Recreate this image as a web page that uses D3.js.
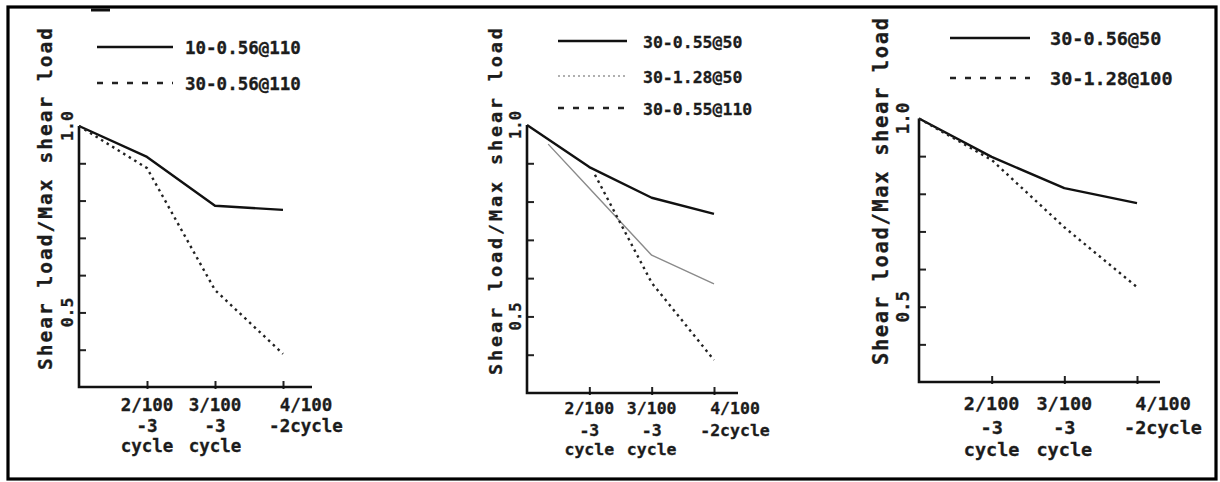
<!DOCTYPE html>
<html>
<head>
<meta charset="utf-8">
<script src="https://cdn.jsdelivr.net/npm/d3@7"></script>
<style>
  body { margin: 0; background: #fff; }
  svg text { font-family: "DejaVu Sans Mono", "Liberation Mono", monospace; font-weight: bold; fill: #1c1c1c; stroke: #1c1c1c; stroke-width: 0.3; }
</style>
</head>
<body>
<svg width="1220" height="482"></svg>
<script>
const svg = d3.select("svg")

// x categories (0 = origin, unlabeled)
const tickLabels = [
    ["2/100", "-3", "cycle"],
    ["3/100", "-3", "cycle"],
    ["4/100", "-2cycle"]
]
const yTickValues = [0.4, 0.5, 0.6, 0.7, 0.8, 0.9]
const yLabel = "Shear load/Max shear load"

// panel 1
const p1Names = ["10-0.56@110", "30-0.56@110"]
const p1X = [0, 1, 2, 3]
const p1A = [1.0, 0.917, 0.786, 0.775]
const p1B = [1.0, 0.887, 0.56, 0.389]

// panel 2
const p2Names = ["30-0.55@50", "30-1.28@50", "30-0.55@110"]
const p2AX = [0, 1, 2, 3]
const p2A = [1.0, 0.89, 0.81, 0.768]
const p2BX = [0.34, 1, 2, 3]
const p2B = [0.95, 0.835, 0.66, 0.585]
const p2CX = [1.09, 2, 3]
const p2C = [0.87, 0.588, 0.386]

// panel 3
const p3Names = ["30-0.56@50", "30-1.28@100"]
const p3X = [0, 1, 2, 3]
const p3A = [1.0, 0.898, 0.815, 0.775]
const p3B = [1.0, 0.89, 0.711, 0.552]

const styles = {
    solid: { stroke: "#111", width: 2.4, dash: null, legendDash: null },
    dash: { stroke: "#222", width: 2.4, dash: "2.5,4", legendDash: "6,9" },
    gray: { stroke: "#8a8a8a", width: 1.4, dash: null, legendDash: "2,3", legendStroke: "#b0b0b0" }
}

const zip = (xs, vs) => xs.map((x, i) => ({ x: x, v: vs[i] }))

const panels = [
    {
        xr: [79, 283], yr: [387, 126], axisEnd: 312, fs: 17.5,
        yLab: { x: 52, y0: 28, y1: 370 }, tickLabX: 73,
        rows: [411, 432, 452], lastDx: 23,
        legend: { x1: 97, x2: 173, tx: 185, ys: [47, 83] },
        series: [
            { name: p1Names[0], data: zip(p1X, p1A), style: "solid" },
            { name: p1Names[1], data: zip(p1X, p1B), style: "dash" }
        ]
    },
    {
        xr: [527, 714], yr: [393, 125], axisEnd: 738, fs: 16.5,
        yLab: { x: 502, y0: 28, y1: 375 }, tickLabX: 521,
        rows: [414, 436, 455], lastDx: 21,
        legend: { x1: 558, x2: 627, tx: 643, ys: [41, 76, 108] },
        series: [
            { name: p2Names[0], data: zip(p2AX, p2A), style: "solid" },
            { name: p2Names[1], data: zip(p2BX, p2B), style: "gray" },
            { name: p2Names[2], data: zip(p2CX, p2C), style: "dash" }
        ]
    },
    {
        xr: [919, 1137], yr: [382, 118.5], axisEnd: 1160, fs: 18.5,
        yLab: { x: 888, y0: 18, y1: 365 }, tickLabX: 909,
        rows: [410, 434, 456], lastDx: 26,
        legend: { x1: 950, x2: 1030, tx: 1050, ys: [38, 78] },
        series: [
            { name: p3Names[0], data: zip(p3X, p3A), style: "solid" },
            { name: p3Names[1], data: zip(p3X, p3B), style: "dash" }
        ]
    }
]

// outer frame
svg.append("rect")
    .attr("x", 8).attr("y", 7)
    .attr("width", 1208).attr("height", 472)
    .attr("fill", "none").attr("stroke", "#000").attr("stroke-width", 3.2)
svg.append("line")
    .attr("x1", 91).attr("x2", 110).attr("y1", 10).attr("y2", 10)
    .attr("stroke", "#111").attr("stroke-width", 3)

panels.forEach(function (p) {
    const x = d3.scaleLinear().domain([0, 3]).range(p.xr),
        y = d3.scaleLinear().domain([0.3, 1.0]).range(p.yr)
    const g = svg.append("g")

    // y axis: ticks pointing inward
    const yAxis = g.append("g")
        .attr("transform", `translate(${p.xr[0]},0)`)
        .call(d3.axisRight(y).tickValues(yTickValues).tickSize(7).tickFormat(""))
    yAxis.select(".domain").remove()
    yAxis.selectAll("line").attr("stroke", "#222").attr("stroke-width", 2)

    // x axis: ticks pointing up
    const xAxis = g.append("g")
        .attr("transform", `translate(0,${y(0.3)})`)
        .call(d3.axisTop(x).tickValues([1, 2, 3]).tickSize(6).tickFormat(""))
    xAxis.select(".domain").remove()
    xAxis.selectAll("line").attr("stroke", "#222").attr("stroke-width", 2).attr("y2", -6).attr("y1", 2)

    g.append("path")
        .attr("d", `M${p.xr[0]},${y(1.0)}V${y(0.3)}H${p.axisEnd}`)
        .attr("fill", "none").attr("stroke", "#111").attr("stroke-width", 2.6)

    // x tick labels, multi-line
    tickLabels.forEach(function (lines, i) {
        const cx = x(i + 1) + (i == 2 ? p.lastDx : 0)
        lines.forEach(function (t, j) {
            g.append("text")
                .attr("x", cx).attr("y", p.rows[j])
                .attr("text-anchor", "middle")
                .style("font-size", p.fs + "px")
                .text(t)
        })
    })

    // y tick labels (rotated)
    ;[1.0, 0.5].forEach(function (v) {
        g.append("text")
            .attr("transform", `translate(${p.tickLabX},${y(v)}) rotate(-90)`)
            .attr("text-anchor", "middle")
            .style("font-size", (p.fs - 1) + "px")
            .text(v.toFixed(1))
    })

    // y axis title
    g.append("text")
        .attr("transform", `translate(${p.yLab.x},${p.yLab.y1}) rotate(-90)`)
        .attr("textLength", p.yLab.y1 - p.yLab.y0)
        .attr("lengthAdjust", "spacing")
        .style("font-size", (p.fs + 2) + "px")
        .text(yLabel)

    const line = d3.line()
        .x(d => x(d.x))
        .y(d => y(d.v))

    p.series.forEach(function (s, i) {
        const st = styles[s.style]
        g.append("path")
            .attr("d", line(s.data))
            .attr("fill", "none")
            .attr("stroke", st.stroke)
            .attr("stroke-width", st.width)
            .attr("stroke-dasharray", st.dash)
            .attr("stroke-linejoin", "round")

        const ly = p.legend.ys[i]
        g.append("line")
            .attr("x1", p.legend.x1).attr("x2", p.legend.x2)
            .attr("y1", ly).attr("y2", ly)
            .attr("stroke", st.legendStroke || st.stroke)
            .attr("stroke-width", s.style == "gray" ? 2 : 2.6)
            .attr("stroke-dasharray", st.legendDash)
        g.append("text")
            .attr("x", p.legend.tx).attr("y", ly + 7)
            .style("font-size", p.fs + "px")
            .text(s.name)
    })
})
</script>
</body>
</html>
